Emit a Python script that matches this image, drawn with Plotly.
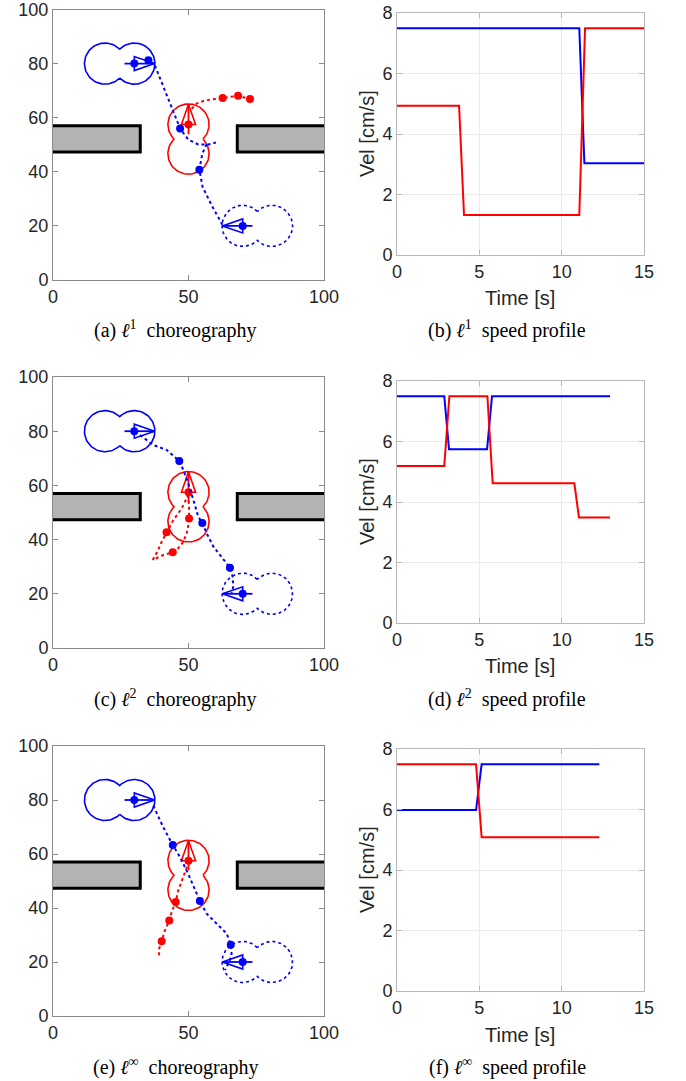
import numpy as np
import plotly.graph_objects as go

BLUE = "#0000ff"
RED = "#ff0000"
W, H = 686, 1081

# ---------------- data ----------------
# robot poses: (x, y, heading deg)
blue_start = (30, 80, 0)
blue_goal = (70, 20, 180)
red_pose = (50, 57.5, 90)
obst_left = (-3, 32.2, 47.3, 57.0)
obst_right = (68.0, 103, 47.3, 57.0)

# panel (a) l1 choreography
a_blue_x1 = [37.6, 41.3, 45.0, 46.9, 49.9, 53.6, 57.3, 60.1]
a_blue_y1 = [79.3, 70.1, 60.3, 56.0, 51.9, 50.1, 50.1, 50.8]
a_blue_x2 = [56.7, 55.1, 54.0, 55.2, 58.5, 62.9]
a_blue_y2 = [50.2, 46.7, 40.8, 34.4, 27.7, 19.7]
a_blue_dot_x = [35.2, 46.9, 54.0]
a_blue_dot_y = [81.2, 56.0, 40.8]
a_red_x = [51.2, 53.0, 56.1, 62.6, 68.3, 72.7]
a_red_y = [63.3, 65.2, 66.4, 67.3, 68.1, 66.9]
a_red_dot_x = [62.6, 68.3, 72.7]
a_red_dot_y = [67.3, 68.1, 66.9]

# panel (c) l2 choreography
c_blue_x = [32.1, 37.0, 41.9, 45.0, 46.6, 48.1, 49.9, 51.8, 53.6, 55.1, 56.7, 59.2, 62.9, 65.3, 66.3, 66.5, 65.9]
c_blue_y = [78.6, 74.9, 73.1, 70.6, 69.0, 65.7, 60.8, 54.6, 48.5, 46.1, 42.3, 37.4, 32.5, 29.6, 26.3, 22.6, 20.2]
c_blue_dot_x = [46.6, 55.1, 65.3]
c_blue_dot_y = [69.0, 46.1, 29.6]
c_red_x1 = [36.8, 38.5, 40.1, 41.9, 44.4, 47.5, 49.9]
c_red_y1 = [32.5, 35.5, 39.2, 42.7, 47.2, 51.5, 56.5]
c_red_x2 = [49.9, 50.2, 50.2, 49.7, 48.1, 46.2, 44.2, 40.7, 36.8]
c_red_y2 = [56.5, 52.2, 47.8, 43.5, 39.2, 36.8, 35.3, 34.3, 32.5]
c_red_dot_x = [41.9, 50.2, 44.2]
c_red_dot_y = [42.7, 47.8, 35.3]

# panel (e) l-inf choreography
e_blue_x = [37.0, 40.7, 44.2, 46.9, 49.9, 52.4, 54.2, 56.7, 60.4, 64.1, 65.6, 65.9, 65.3, 63.5]
e_blue_y = [77.9, 69.9, 63.3, 58.8, 52.6, 46.5, 42.6, 37.9, 34.2, 30.5, 26.4, 23.1, 20.7, 17.0]
e_blue_dot_x = [44.2, 54.2, 65.6]
e_blue_dot_y = [63.3, 42.6, 26.4]
e_red_x = [50.2, 48.1, 46.2, 45.3, 43.8, 42.9, 41.3, 40.1, 39.2, 39.1]
e_red_y = [57.3, 51.4, 46.5, 42.2, 38.5, 35.4, 31.7, 27.7, 25.0, 21.9]
e_red_dot_x = [45.3, 42.9, 40.1]
e_red_dot_y = [42.2, 35.4, 27.7]

# speed profiles (time [s], vel [cm/s])
b_blue_t = [0, 11.07, 11.38, 15]
b_blue_v = [7.5, 7.5, 3.03, 3.03]
b_red_t = [0, 3.77, 4.07, 11.07, 11.42, 15]
b_red_v = [4.93, 4.93, 1.32, 1.32, 7.5, 7.5]

d_blue_t = [0, 2.87, 3.16, 5.47, 5.77, 12.94]
d_blue_v = [7.5, 7.5, 5.74, 5.74, 7.5, 7.5]
d_red_t = [0, 2.87, 3.18, 5.49, 5.81, 10.77, 11.05, 12.94]
d_red_v = [5.19, 5.19, 7.5, 7.5, 4.62, 4.62, 3.49, 3.49]

f_blue_t = [0, 4.80, 5.14, 12.29]
f_blue_v = [5.98, 5.98, 7.5, 7.5]
f_red_t = [0, 4.80, 5.14, 12.29]
f_red_v = [7.5, 7.5, 5.08, 5.08]

captions = ["(a) <i>ℓ</i><sup>1</sup>  choreography", "(b) <i>ℓ</i><sup>1</sup>  speed profile",
            "(c) <i>ℓ</i><sup>2</sup>  choreography", "(d) <i>ℓ</i><sup>2</sup>  speed profile",
            "(e) <i>ℓ</i><sup>∞</sup>  choreography", "(f) <i>ℓ</i><sup>∞</sup>  speed profile"]

# ---------------- helpers ----------------
R_ROB, D_ROB = 7.6, 10.8


def peanut(x, y, hdeg, n=80):
    th = np.degrees(np.arccos(D_ROB / 2 / R_ROB))
    h = np.radians(hdeg)
    a1 = np.radians(np.linspace(hdeg - (180 - th), hdeg + (180 - th), n))
    qx, qy = x - D_ROB * np.cos(h), y - D_ROB * np.sin(h)
    a2 = np.radians(np.linspace(hdeg + th, hdeg + 360 - th, n))
    xs = np.concatenate([x + R_ROB * np.cos(a1), qx + R_ROB * np.cos(a2)])
    ys = np.concatenate([y + R_ROB * np.sin(a1), qy + R_ROB * np.sin(a2)])
    return list(xs) + [xs[0]], list(ys) + [ys[0]]


def arrow(x, y, hdeg):
    h = np.radians(hdeg)
    ux, uy = np.cos(h), np.sin(h)
    px, py = -uy, ux
    lx = [x - 3.6 * ux, x + 7.5 * ux]
    ly = [y - 3.6 * uy, y + 7.5 * uy]
    tip = (x + 7.5 * ux, y + 7.5 * uy)
    tx = [tip[0], x + 2.6 * px, x - 2.6 * px, tip[0]]
    ty = [tip[1], y + 2.6 * py, y - 2.6 * py, tip[1]]
    return lx, ly, tx, ty


fig = go.Figure()


def add_line(xs, ys, color, ax, dash="solid", width=1.6):
    fig.add_trace(go.Scatter(x=xs, y=ys, mode="lines", xaxis="x" + ax, yaxis="y" + ax,
                             line=dict(color=color, width=width, dash=dash),
                             showlegend=False, hoverinfo="skip"))


def add_dots(xs, ys, color, ax, size=8):
    fig.add_trace(go.Scatter(x=xs, y=ys, mode="markers", xaxis="x" + ax, yaxis="y" + ax,
                             marker=dict(color=color, size=size), showlegend=False, hoverinfo="skip"))


def add_robot(pose, color, ax, dash="solid"):
    x, y, hd = pose
    px_, py_ = peanut(x, y, hd)
    add_line(px_, py_, color, ax, dash=dash, width=1.6)
    lx, ly, tx, ty = arrow(x, y, hd)
    add_line(lx, ly, color, ax, width=1.8)
    add_line(tx, ty, color, ax, width=1.6)
    add_dots([x], [y], color, ax)


def add_obstacles(ax):
    for (x0, x1, y0, y1) in (obst_left, obst_right):
        fig.add_shape(type="rect", x0=x0, x1=x1, y0=y0, y1=y1, xref="x" + ax, yref="y" + ax,
                      fillcolor="#b3b3b3", line=dict(color="black", width=3), layer="below")


TRAJ_W = 2.0
# panel a
ax = ""
add_obstacles(ax)
add_robot(blue_start, BLUE, ax)
add_robot(blue_goal, BLUE, ax, dash="dot")
add_robot(red_pose, RED, ax)
add_line(a_blue_x1, a_blue_y1, BLUE, ax, dash="dot", width=TRAJ_W)
add_line(a_blue_x2, a_blue_y2, BLUE, ax, dash="dot", width=TRAJ_W)
add_dots(a_blue_dot_x, a_blue_dot_y, BLUE, ax)
add_line(a_red_x, a_red_y, RED, ax, dash="dot", width=TRAJ_W)
add_dots(a_red_dot_x, a_red_dot_y, RED, ax)

# panel c
ax = "3"
add_obstacles(ax)
add_robot(blue_start, BLUE, ax)
add_robot(blue_goal, BLUE, ax, dash="dot")
add_robot(red_pose, RED, ax)
add_line(c_blue_x, c_blue_y, BLUE, ax, dash="dot", width=TRAJ_W)
add_dots(c_blue_dot_x, c_blue_dot_y, BLUE, ax)
add_line(c_red_x1, c_red_y1, RED, ax, dash="dot", width=TRAJ_W)
add_line(c_red_x2, c_red_y2, RED, ax, dash="dot", width=TRAJ_W)
add_dots(c_red_dot_x, c_red_dot_y, RED, ax)

# panel e
ax = "5"
add_obstacles(ax)
add_robot(blue_start, BLUE, ax)
add_robot(blue_goal, BLUE, ax, dash="dot")
add_robot(red_pose, RED, ax)
add_line(e_blue_x, e_blue_y, BLUE, ax, dash="dot", width=TRAJ_W)
add_dots(e_blue_dot_x, e_blue_dot_y, BLUE, ax)
add_line(e_red_x, e_red_y, RED, ax, dash="dot", width=TRAJ_W)
add_dots(e_red_dot_x, e_red_dot_y, RED, ax)

# speed panels
for ax, bt, bv, rt, rv in (("2", b_blue_t, b_blue_v, b_red_t, b_red_v),
                           ("4", d_blue_t, d_blue_v, d_red_t, d_red_v),
                           ("6", f_blue_t, f_blue_v, f_red_t, f_red_v)):
    add_line(bt, bv, BLUE, ax, width=2)
    add_line(rt, rv, RED, ax, width=2)

# ---------------- layout ----------------
TICKFONT = dict(family="Liberation Sans, Arial, sans-serif", size=18, color="#262626")
LABELFONT = dict(family="Liberation Sans, Arial, sans-serif", size=20, color="#262626")
CAPFONT = dict(family="Liberation Serif, Times New Roman, serif", size=20, color="black")
left_x = [53 / W, 324 / W]
right_x = [397 / W, 644 / W]
left_y = [(9.5, 280), (377, 648), (746, 1016)]
right_y = [(13, 255), (381, 623), (749, 991)]


def ydom(top, bot):
    return [1 - bot / H, 1 - top / H]


layout = dict(width=W, height=H, margin=dict(l=0, r=0, t=0, b=0, autoexpand=False),
              paper_bgcolor="white", plot_bgcolor="white", showlegend=False)

for i in range(3):
    lx = 2 * i + 1
    rx = 2 * i + 2
    lname = "" if lx == 1 else str(lx)
    common_left = dict(range=[0, 100], showline=True, linecolor="#8a8a8a", linewidth=1, mirror="allticks",
                       ticks="inside", ticklen=5, tickcolor="#8a8a8a", showgrid=False, zeroline=False,
                       tickfont=TICKFONT, automargin=False, ticklabeloverflow="allow")
    layout["xaxis" + lname] = dict(common_left, domain=left_x, anchor="y" + lname,
                                   tickvals=[0, 50, 100])
    layout["yaxis" + lname] = dict(common_left, domain=ydom(*left_y[i]), anchor="x" + lname,
                                   tickvals=[0, 20, 40, 60, 80, 100])
    rname = str(rx)
    common_right = dict(showline=True, linecolor="#b8b8b8", linewidth=1, mirror="allticks",
                        ticks="inside", ticklen=5, tickcolor="#b8b8b8", showgrid=True,
                        gridcolor="#ebebeb", gridwidth=1, zeroline=False, tickfont=TICKFONT,
                        automargin=False, ticklabeloverflow="allow")
    layout["xaxis" + rname] = dict(common_right, domain=right_x, anchor="y" + rname, range=[0, 15],
                                   tickvals=[0, 5, 10, 15])
    layout["yaxis" + rname] = dict(common_right, domain=ydom(*right_y[i]), anchor="x" + rname,
                                   range=[0, 8], tickvals=[0, 2, 4, 6, 8])

annotations = []
cap_y = [330, 698, 1066]
time_y = [298, 666, 1035]
for i in range(3):
    annotations.append(dict(text=captions[2 * i], x=175 / W, y=1 - cap_y[i] / H, xref="paper", yref="paper",
                            showarrow=False, xanchor="center", yanchor="middle", font=CAPFONT))
    annotations.append(dict(text=captions[2 * i + 1], x=507 / W, y=1 - cap_y[i] / H, xref="paper", yref="paper",
                            showarrow=False, xanchor="center", yanchor="middle", font=CAPFONT))
    annotations.append(dict(text="Time [s]", x=520 / W, y=1 - time_y[i] / H, xref="paper", yref="paper",
                            showarrow=False, xanchor="center", yanchor="middle", font=LABELFONT))
    t, b = right_y[i]
    annotations.append(dict(text="Vel [cm/s]", x=367 / W, y=1 - (t + b) / 2 / H, xref="paper", yref="paper",
                            showarrow=False, xanchor="center", yanchor="middle", textangle=-90, font=LABELFONT))
layout["annotations"] = annotations

fig.update_layout(**layout)
fig.write_html("out.html", config={"responsive": False, "displayModeBar": False},
               post_script="document.body.style.margin='0';document.body.style.overflow='hidden';")
